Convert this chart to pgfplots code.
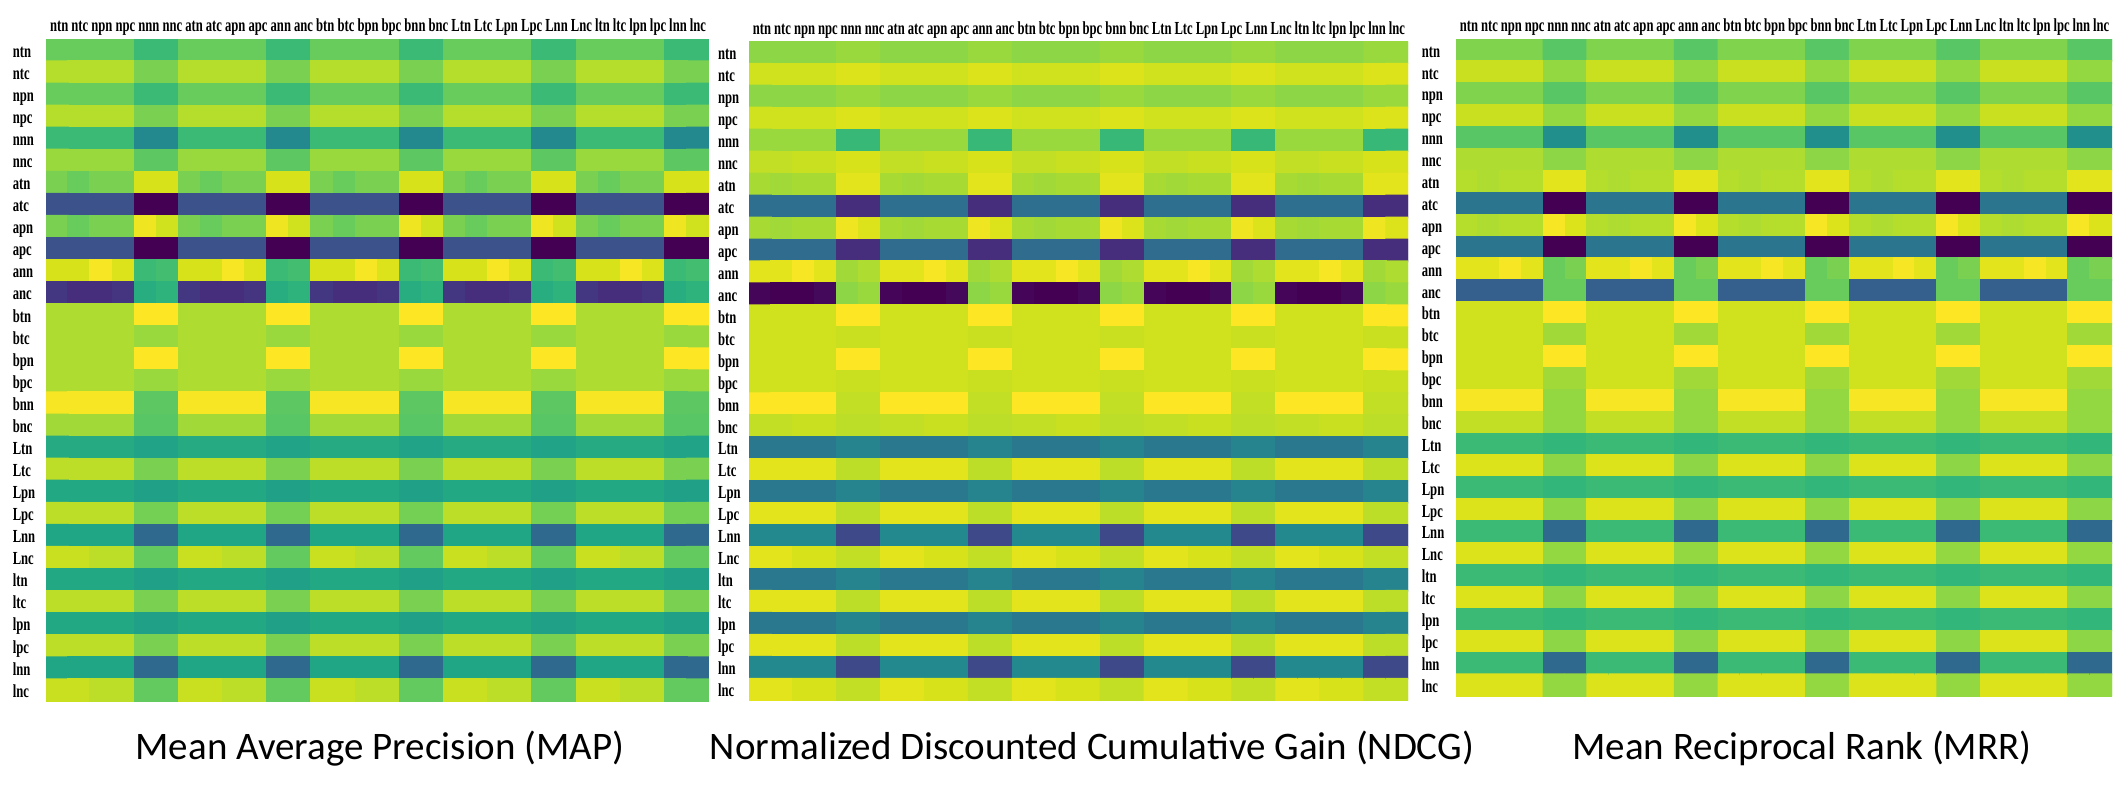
\documentclass[border=0pt]{standalone}
\usepackage{pgfplots}
\pgfplotsset{compat=1.18}
\usepackage{pgfplotstable}
\usepackage{fontspec}
\newfontfamily\lblfont{Liberation Serif}[UprightFont=* Bold, FakeStretch=0.686]
\newfontfamily\ttlfont{Carlito}

% one value per cell, rows top to bottom, 30 columns per row (viridis 0..100)
\pgfplotstableread[row sep=\\, header=false]{
77\\77\\77\\77\\68\\68\\77\\77\\77\\77\\68\\68\\77\\77\\77\\77\\68\\68\\77\\77\\77\\77\\68\\68\\77\\77\\77\\77\\68\\68\\
89\\89\\89\\89\\80\\80\\89\\89\\89\\89\\80\\80\\89\\89\\89\\89\\80\\80\\89\\89\\89\\89\\80\\80\\89\\89\\89\\89\\80\\80\\
77\\77\\77\\77\\68\\68\\77\\77\\77\\77\\68\\68\\77\\77\\77\\77\\68\\68\\77\\77\\77\\77\\68\\68\\77\\77\\77\\77\\68\\68\\
89\\89\\89\\89\\80\\80\\89\\89\\89\\89\\80\\80\\89\\89\\89\\89\\80\\80\\89\\89\\89\\89\\80\\80\\89\\89\\89\\89\\80\\80\\
68\\68\\68\\68\\47\\47\\68\\68\\68\\68\\47\\47\\68\\68\\68\\68\\47\\47\\68\\68\\68\\68\\47\\47\\68\\68\\68\\68\\47\\47\\
85\\85\\85\\85\\75\\75\\85\\85\\85\\85\\75\\75\\85\\85\\85\\85\\75\\75\\85\\85\\85\\85\\75\\75\\85\\85\\85\\85\\75\\75\\
80\\77\\80\\80\\94\\94\\80\\77\\80\\80\\94\\94\\80\\77\\80\\80\\94\\94\\80\\77\\80\\80\\94\\94\\80\\77\\80\\80\\94\\94\\
25\\25\\25\\25\\0\\0\\25\\25\\25\\25\\0\\0\\25\\25\\25\\25\\0\\0\\25\\25\\25\\25\\0\\0\\25\\25\\25\\25\\0\\0\\
80\\77\\80\\80\\98\\93\\80\\77\\80\\80\\98\\93\\80\\77\\80\\80\\98\\93\\80\\77\\80\\80\\98\\93\\80\\77\\80\\80\\98\\93\\
25\\25\\25\\25\\0\\0\\25\\25\\25\\25\\0\\0\\25\\25\\25\\25\\0\\0\\25\\25\\25\\25\\0\\0\\25\\25\\25\\25\\0\\0\\
94\\94\\99\\95\\68\\70\\94\\94\\99\\95\\68\\70\\94\\94\\99\\95\\68\\70\\94\\94\\99\\95\\68\\70\\94\\94\\99\\95\\68\\70\\
16\\13\\13\\15\\62\\65\\16\\13\\13\\15\\62\\65\\16\\13\\13\\15\\62\\65\\16\\13\\13\\15\\62\\65\\16\\13\\13\\15\\62\\65\\
88\\88\\88\\88\\100\\100\\88\\88\\88\\88\\100\\100\\88\\88\\88\\88\\100\\100\\88\\88\\88\\88\\100\\100\\88\\88\\88\\88\\100\\100\\
88\\88\\88\\88\\85\\85\\88\\88\\88\\88\\85\\85\\88\\88\\88\\88\\85\\85\\88\\88\\88\\88\\85\\85\\88\\88\\88\\88\\85\\85\\
88\\88\\88\\88\\100\\100\\88\\88\\88\\88\\100\\100\\88\\88\\88\\88\\100\\100\\88\\88\\88\\88\\100\\100\\88\\88\\88\\88\\100\\100\\
88\\88\\88\\88\\85\\85\\88\\88\\88\\88\\85\\85\\88\\88\\88\\88\\85\\85\\88\\88\\88\\88\\85\\85\\88\\88\\88\\88\\85\\85\\
99\\99\\99\\99\\75\\75\\99\\99\\99\\99\\75\\75\\99\\99\\99\\99\\75\\75\\99\\99\\99\\99\\75\\75\\99\\99\\99\\99\\75\\75\\
86\\86\\86\\86\\74\\74\\86\\86\\86\\86\\74\\74\\86\\86\\86\\86\\74\\74\\86\\86\\86\\86\\74\\74\\86\\86\\86\\86\\74\\74\\
61\\61\\61\\61\\58\\58\\61\\61\\61\\61\\58\\58\\61\\61\\61\\61\\58\\58\\61\\61\\61\\61\\58\\58\\61\\61\\61\\61\\58\\58\\
90\\90\\90\\90\\80\\80\\90\\90\\90\\90\\80\\80\\90\\90\\90\\90\\80\\80\\90\\90\\90\\90\\80\\80\\90\\90\\90\\90\\80\\80\\
60\\60\\60\\60\\57\\57\\60\\60\\60\\60\\57\\57\\60\\60\\60\\60\\57\\57\\60\\60\\60\\60\\57\\57\\60\\60\\60\\60\\57\\57\\
90\\90\\90\\90\\79\\79\\90\\90\\90\\90\\79\\79\\90\\90\\90\\90\\79\\79\\90\\90\\90\\90\\79\\79\\90\\90\\90\\90\\79\\79\\
59\\59\\59\\59\\34\\34\\59\\59\\59\\59\\34\\34\\59\\59\\59\\59\\34\\34\\59\\59\\59\\59\\34\\34\\59\\59\\59\\59\\34\\34\\
92\\92\\90\\90\\76\\76\\92\\92\\90\\90\\76\\76\\92\\92\\90\\90\\76\\76\\92\\92\\90\\90\\76\\76\\92\\92\\90\\90\\76\\76\\
60\\60\\60\\60\\57\\57\\60\\60\\60\\60\\57\\57\\60\\60\\60\\60\\57\\57\\60\\60\\60\\60\\57\\57\\60\\60\\60\\60\\57\\57\\
90\\90\\90\\90\\80\\80\\90\\90\\90\\90\\80\\80\\90\\90\\90\\90\\80\\80\\90\\90\\90\\90\\80\\80\\90\\90\\90\\90\\80\\80\\
60\\60\\60\\60\\57\\57\\60\\60\\60\\60\\57\\57\\60\\60\\60\\60\\57\\57\\60\\60\\60\\60\\57\\57\\60\\60\\60\\60\\57\\57\\
90\\90\\90\\90\\80\\80\\90\\90\\90\\90\\80\\80\\90\\90\\90\\90\\80\\80\\90\\90\\90\\90\\80\\80\\90\\90\\90\\90\\80\\80\\
59\\59\\59\\59\\34\\34\\59\\59\\59\\59\\34\\34\\59\\59\\59\\59\\34\\34\\59\\59\\59\\59\\34\\34\\59\\59\\59\\59\\34\\34\\
92\\92\\90\\90\\76\\76\\92\\92\\90\\90\\76\\76\\92\\92\\90\\90\\76\\76\\92\\92\\90\\90\\76\\76\\92\\92\\90\\90\\76\\76\\
}\mapdata

\pgfplotstableread[row sep=\\, header=false]{
83\\83\\83\\83\\85\\85\\83\\83\\83\\83\\85\\85\\83\\83\\83\\83\\85\\85\\83\\83\\83\\83\\85\\85\\83\\83\\83\\83\\85\\85\\
93\\93\\93\\93\\95\\95\\93\\93\\93\\93\\95\\95\\93\\93\\93\\93\\95\\95\\93\\93\\93\\93\\95\\95\\93\\93\\93\\93\\95\\95\\
83\\83\\83\\83\\85\\85\\83\\83\\83\\83\\85\\85\\83\\83\\83\\83\\85\\85\\83\\83\\83\\83\\85\\85\\83\\83\\83\\83\\85\\85\\
93\\93\\93\\93\\95\\95\\93\\93\\93\\93\\95\\95\\93\\93\\93\\93\\95\\95\\93\\93\\93\\93\\95\\95\\93\\93\\93\\93\\95\\95\\
85\\85\\85\\85\\67\\67\\85\\85\\85\\85\\67\\67\\85\\85\\85\\85\\67\\67\\85\\85\\85\\85\\67\\67\\85\\85\\85\\85\\67\\67\\
91\\91\\92\\92\\94\\94\\91\\91\\92\\92\\94\\94\\91\\91\\92\\92\\94\\94\\91\\91\\92\\92\\94\\94\\91\\91\\92\\92\\94\\94\\
87\\86\\87\\87\\96\\96\\87\\86\\87\\87\\96\\96\\87\\86\\87\\87\\96\\96\\87\\86\\87\\87\\96\\96\\87\\86\\87\\87\\96\\96\\
36\\36\\36\\36\\13\\13\\36\\36\\36\\36\\13\\13\\36\\36\\36\\36\\13\\13\\36\\36\\36\\36\\13\\13\\36\\36\\36\\36\\13\\13\\
87\\86\\87\\87\\98\\95\\87\\86\\87\\87\\98\\95\\87\\86\\87\\87\\98\\95\\87\\86\\87\\87\\98\\95\\87\\86\\87\\87\\98\\95\\
35\\35\\35\\35\\13\\13\\35\\35\\35\\35\\13\\13\\35\\35\\35\\35\\13\\13\\35\\35\\35\\35\\13\\13\\35\\35\\35\\35\\13\\13\\
96\\96\\99\\96\\86\\88\\96\\96\\99\\96\\86\\88\\96\\96\\99\\96\\86\\88\\96\\96\\99\\96\\86\\88\\96\\96\\99\\96\\86\\88\\
1\\0\\0\\2\\83\\85\\1\\0\\0\\2\\83\\85\\1\\0\\0\\2\\83\\85\\1\\0\\0\\2\\83\\85\\1\\0\\0\\2\\83\\85\\
93\\93\\93\\93\\100\\100\\93\\93\\93\\93\\100\\100\\93\\93\\93\\93\\100\\100\\93\\93\\93\\93\\100\\100\\93\\93\\93\\93\\100\\100\\
93\\93\\93\\93\\92\\92\\93\\93\\93\\93\\92\\92\\93\\93\\93\\93\\92\\92\\93\\93\\93\\93\\92\\92\\93\\93\\93\\93\\92\\92\\
93\\93\\93\\93\\100\\100\\93\\93\\93\\93\\100\\100\\93\\93\\93\\93\\100\\100\\93\\93\\93\\93\\100\\100\\93\\93\\93\\93\\100\\100\\
93\\93\\93\\93\\92\\92\\93\\93\\93\\93\\92\\92\\93\\93\\93\\93\\92\\92\\93\\93\\93\\93\\92\\92\\93\\93\\93\\93\\92\\92\\
100\\100\\100\\100\\91\\91\\100\\100\\100\\100\\91\\91\\100\\100\\100\\100\\91\\91\\100\\100\\100\\100\\91\\91\\100\\100\\100\\100\\91\\91\\
91\\91\\92\\92\\90\\90\\91\\91\\92\\92\\90\\90\\91\\91\\92\\92\\90\\90\\91\\91\\92\\92\\90\\90\\91\\91\\92\\92\\90\\90\\
40\\40\\40\\40\\45\\45\\40\\40\\40\\40\\45\\45\\40\\40\\40\\40\\45\\45\\40\\40\\40\\40\\45\\45\\40\\40\\40\\40\\45\\45\\
96\\96\\96\\96\\90\\90\\96\\96\\96\\96\\90\\90\\96\\96\\96\\96\\90\\90\\96\\96\\96\\96\\90\\90\\96\\96\\96\\96\\90\\90\\
40\\40\\40\\40\\45\\45\\40\\40\\40\\40\\45\\45\\40\\40\\40\\40\\45\\45\\40\\40\\40\\40\\45\\45\\40\\40\\40\\40\\45\\45\\
96\\96\\96\\96\\90\\90\\96\\96\\96\\96\\90\\90\\96\\96\\96\\96\\90\\90\\96\\96\\96\\96\\90\\90\\96\\96\\96\\96\\90\\90\\
47\\47\\47\\47\\22\\22\\47\\47\\47\\47\\22\\22\\47\\47\\47\\47\\22\\22\\47\\47\\47\\47\\22\\22\\47\\47\\47\\47\\22\\22\\
96\\96\\94\\94\\91\\91\\96\\96\\94\\94\\91\\91\\96\\96\\94\\94\\91\\91\\96\\96\\94\\94\\91\\91\\96\\96\\94\\94\\91\\91\\
40\\40\\40\\40\\45\\45\\40\\40\\40\\40\\45\\45\\40\\40\\40\\40\\45\\45\\40\\40\\40\\40\\45\\45\\40\\40\\40\\40\\45\\45\\
96\\96\\96\\96\\90\\90\\96\\96\\96\\96\\90\\90\\96\\96\\96\\96\\90\\90\\96\\96\\96\\96\\90\\90\\96\\96\\96\\96\\90\\90\\
40\\40\\40\\40\\45\\45\\40\\40\\40\\40\\45\\45\\40\\40\\40\\40\\45\\45\\40\\40\\40\\40\\45\\45\\40\\40\\40\\40\\45\\45\\
96\\96\\96\\96\\90\\90\\96\\96\\96\\96\\90\\90\\96\\96\\96\\96\\90\\90\\96\\96\\96\\96\\90\\90\\96\\96\\96\\96\\90\\90\\
47\\47\\47\\47\\22\\22\\47\\47\\47\\47\\22\\22\\47\\47\\47\\47\\22\\22\\47\\47\\47\\47\\22\\22\\47\\47\\47\\47\\22\\22\\
96\\96\\94\\94\\91\\91\\96\\96\\94\\94\\91\\91\\96\\96\\94\\94\\91\\91\\96\\96\\94\\94\\91\\91\\96\\96\\94\\94\\91\\91\\
}\ndcgdata

\pgfplotstableread[row sep=\\, header=false]{
81\\81\\81\\81\\74\\74\\81\\81\\81\\81\\74\\74\\81\\81\\81\\81\\74\\74\\81\\81\\81\\81\\74\\74\\81\\81\\81\\81\\74\\74\\
92\\92\\92\\92\\84\\84\\92\\92\\92\\92\\84\\84\\92\\92\\92\\92\\84\\84\\92\\92\\92\\92\\84\\84\\92\\92\\92\\92\\84\\84\\
81\\81\\81\\81\\74\\74\\81\\81\\81\\81\\74\\74\\81\\81\\81\\81\\74\\74\\81\\81\\81\\81\\74\\74\\81\\81\\81\\81\\74\\74\\
92\\92\\92\\92\\84\\84\\92\\92\\92\\92\\84\\84\\92\\92\\92\\92\\84\\84\\92\\92\\92\\92\\84\\84\\92\\92\\92\\92\\84\\84\\
74\\74\\74\\74\\50\\50\\74\\74\\74\\74\\50\\50\\74\\74\\74\\74\\50\\50\\74\\74\\74\\74\\50\\50\\74\\74\\74\\74\\50\\50\\
88\\88\\88\\88\\83\\83\\88\\88\\88\\88\\83\\83\\88\\88\\88\\88\\83\\83\\88\\88\\88\\88\\83\\83\\88\\88\\88\\88\\83\\83\\
89\\88\\89\\89\\96\\96\\89\\88\\89\\89\\96\\96\\89\\88\\89\\89\\96\\96\\89\\88\\89\\89\\96\\96\\89\\88\\89\\89\\96\\96\\
39\\39\\39\\39\\0\\0\\39\\39\\39\\39\\0\\0\\39\\39\\39\\39\\0\\0\\39\\39\\39\\39\\0\\0\\39\\39\\39\\39\\0\\0\\
89\\88\\89\\89\\99\\95\\89\\88\\89\\89\\99\\95\\89\\88\\89\\89\\99\\95\\89\\88\\89\\89\\99\\95\\89\\88\\89\\89\\99\\95\\
39\\39\\39\\39\\0\\0\\39\\39\\39\\39\\0\\0\\39\\39\\39\\39\\0\\0\\39\\39\\39\\39\\0\\0\\39\\39\\39\\39\\0\\0\\
96\\96\\99\\96\\77\\80\\96\\96\\99\\96\\77\\80\\96\\96\\99\\96\\77\\80\\96\\96\\99\\96\\77\\80\\96\\96\\99\\96\\77\\80\\
30\\30\\30\\30\\77\\77\\30\\30\\30\\30\\77\\77\\30\\30\\30\\30\\77\\77\\30\\30\\30\\30\\77\\77\\30\\30\\30\\30\\77\\77\\
93\\93\\93\\93\\100\\100\\93\\93\\93\\93\\100\\100\\93\\93\\93\\93\\100\\100\\93\\93\\93\\93\\100\\100\\93\\93\\93\\93\\100\\100\\
93\\93\\93\\93\\86\\86\\93\\93\\93\\93\\86\\86\\93\\93\\93\\93\\86\\86\\93\\93\\93\\93\\86\\86\\93\\93\\93\\93\\86\\86\\
93\\93\\93\\93\\100\\100\\93\\93\\93\\93\\100\\100\\93\\93\\93\\93\\100\\100\\93\\93\\93\\93\\100\\100\\93\\93\\93\\93\\100\\100\\
93\\93\\93\\93\\86\\86\\93\\93\\93\\93\\86\\86\\93\\93\\93\\93\\86\\86\\93\\93\\93\\93\\86\\86\\93\\93\\93\\93\\86\\86\\
99\\99\\99\\99\\84\\84\\99\\99\\99\\99\\84\\84\\99\\99\\99\\99\\84\\84\\99\\99\\99\\99\\84\\84\\99\\99\\99\\99\\84\\84\\
91\\91\\91\\91\\84\\84\\91\\91\\91\\91\\84\\84\\91\\91\\91\\91\\84\\84\\91\\91\\91\\91\\84\\84\\91\\91\\91\\91\\84\\84\\
68\\68\\68\\68\\66\\66\\68\\68\\68\\68\\66\\66\\68\\68\\68\\68\\66\\66\\68\\68\\68\\68\\66\\66\\68\\68\\68\\68\\66\\66\\
95\\95\\95\\95\\83\\83\\95\\95\\95\\95\\83\\83\\95\\95\\95\\95\\83\\83\\95\\95\\95\\95\\83\\83\\95\\95\\95\\95\\83\\83\\
68\\68\\68\\68\\66\\66\\68\\68\\68\\68\\66\\66\\68\\68\\68\\68\\66\\66\\68\\68\\68\\68\\66\\66\\68\\68\\68\\68\\66\\66\\
95\\95\\95\\95\\83\\83\\95\\95\\95\\95\\83\\83\\95\\95\\95\\95\\83\\83\\95\\95\\95\\95\\83\\83\\95\\95\\95\\95\\83\\83\\
68\\68\\68\\68\\34\\34\\68\\68\\68\\68\\34\\34\\68\\68\\68\\68\\34\\34\\68\\68\\68\\68\\34\\34\\68\\68\\68\\68\\34\\34\\
95\\95\\95\\95\\84\\84\\95\\95\\95\\95\\84\\84\\95\\95\\95\\95\\84\\84\\95\\95\\95\\95\\84\\84\\95\\95\\95\\95\\84\\84\\
68\\68\\68\\68\\66\\66\\68\\68\\68\\68\\66\\66\\68\\68\\68\\68\\66\\66\\68\\68\\68\\68\\66\\66\\68\\68\\68\\68\\66\\66\\
95\\95\\95\\95\\83\\83\\95\\95\\95\\95\\83\\83\\95\\95\\95\\95\\83\\83\\95\\95\\95\\95\\83\\83\\95\\95\\95\\95\\83\\83\\
68\\68\\68\\68\\66\\66\\68\\68\\68\\68\\66\\66\\68\\68\\68\\68\\66\\66\\68\\68\\68\\68\\66\\66\\68\\68\\68\\68\\66\\66\\
95\\95\\95\\95\\83\\83\\95\\95\\95\\95\\83\\83\\95\\95\\95\\95\\83\\83\\95\\95\\95\\95\\83\\83\\95\\95\\95\\95\\83\\83\\
68\\68\\68\\68\\34\\34\\68\\68\\68\\68\\34\\34\\68\\68\\68\\68\\34\\34\\68\\68\\68\\68\\34\\34\\68\\68\\68\\68\\34\\34\\
95\\95\\95\\95\\84\\84\\95\\95\\95\\95\\84\\84\\95\\95\\95\\95\\84\\84\\95\\95\\95\\95\\84\\84\\95\\95\\95\\95\\84\\84\\
}\mrrdata

\def\runlabels{ntn,ntc,npn,npc,nnn,nnc,atn,atc,apn,apc,ann,anc,btn,btc,bpn,bpc,bnn,bnc,Ltn,Ltc,Lpn,Lpc,Lnn,Lnc,ltn,ltc,lpn,lpc,lnn,lnc}

\pgfplotsset{
  hm/.style={
    anchor=north west, scale only axis,
    xmin=-0.5, xmax=29.5, ymin=-0.5, ymax=29.5, y dir=reverse,
    enlargelimits=false, axis line style={draw=none}, major tick length=0pt,
    % the header runs as one line of text, so its names sit a little off the columns
    xtick={0.096,1.031,2.029,3.092,4.154,5.216,6.198,7.101,8.067,9.097,
           10.127,11.157,12.140,13.074,14.072,15.135,16.197,17.259,18.290,19.288,
           20.350,21.476,22.602,23.728,24.678,25.453,26.292,27.195,28.098,29.0},
    ytick={0,...,29},
    xticklabels/.expanded=\runlabels, yticklabels/.expanded=\runlabels,
    xticklabel pos=upper,
    tick label style={font=\lblfont\fontsize{4.6}{5}\selectfont, inner sep=0pt, text=black},
    xticklabel style={anchor=base, yshift=1.9pt},
    colormap/viridis, point meta min=0, point meta max=100,
  },
  cells/.style={matrix plot*, mesh/cols=30, mesh/rows=30, point meta=explicit},
  table/grid30/.style={x index=0, y index=0, meta index=0,
    x expr={\coordindex-30*floor((\coordindex+0.5)/30)},
    y expr={floor((\coordindex+0.5)/30)}},
}

\begin{document}
\begin{tikzpicture}
\path[use as bounding box] (0,0) rectangle (532pt,-197.75pt);

\begin{axis}[hm, at={(11.5pt,-9.8pt)}, width=165.75pt, height=165.5pt,
  yticklabel style={anchor=base west, xshift=-8.5pt, yshift=-1.75pt}]
\addplot[cells] table[grid30] {\mapdata};
\end{axis}

\begin{axis}[hm, at={(187.25pt,-10.4pt)}, width=164.75pt, height=164.75pt,
  yticklabel style={anchor=base west, xshift=-7.9pt, yshift=-1.75pt}]
\addplot[cells] table[grid30] {\ndcgdata};
\end{axis}

\begin{axis}[hm, at={(364pt,-9.8pt)}, width=164pt, height=164.25pt,
  yticklabel style={anchor=base west, xshift=-8.75pt, yshift=-1.75pt}]
\addplot[cells] table[grid30] {\mrrdata};
\end{axis}

\begin{scope}[every node/.style={anchor=base, inner sep=0pt, font=\ttlfont\fontsize{9.75}{11}\selectfont}]
\node at (95pt,-189.75pt) {Mean Average Precision (MAP)};
\node at (273pt,-189.75pt) {Normalized Discounted Cumulative Gain (NDCG)};
\node at (450.5pt,-189.75pt) {Mean Reciprocal Rank (MRR)};
\end{scope}
\end{tikzpicture}
\end{document}
